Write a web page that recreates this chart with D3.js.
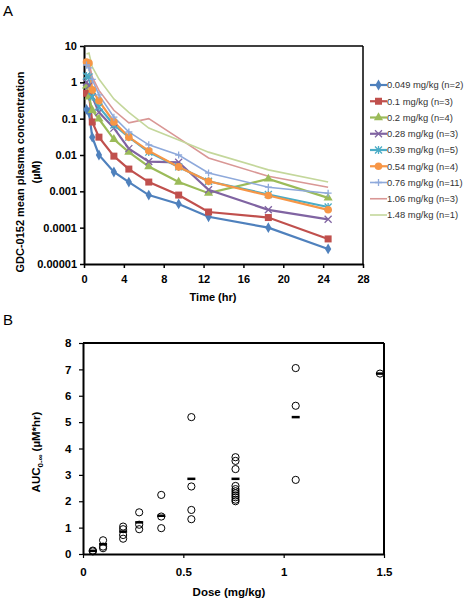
<!DOCTYPE html>
<html><head><meta charset="utf-8">
<script src="https://cdn.jsdelivr.net/npm/d3@7"></script>
<style>body{margin:0;background:#fff}svg{display:block;font-family:Arial,"Liberation Sans",sans-serif}</style>
</head><body><svg id="c" width="464" height="600"></svg>
<script>
// ---- Panel A data ----
const times = [0.25, 0.5, 0.83, 1.5, 3, 4.5, 6.5, 9.5, 12.5, 18.5, 24.5];
const seriesNames = ["0.049 mg/kg (n=2)","0.1 mg/kg (n=3)","0.2 mg/kg (n=4)","0.28 mg/kg (n=3)","0.39 mg/kg (n=5)","0.54 mg/kg (n=4)","0.76 mg/kg (n=11)","1.06 mg/kg (n=3)","1.48 mg/kg (n=1)"];
const conc049 = [0.18, 0.15, 0.031, 0.01, 0.0034, 0.0018, 0.00079, 0.00045, 0.0002, 0.0001, 0.000026];
const conc010 = [0.5, 0.45, 0.081, 0.031, 0.0093, 0.0041, 0.0018, 0.00079, 0.00027, 0.00019, 0.000049];
const conc020 = [0.8, 0.4, 0.17, 0.098, 0.027, 0.012, 0.0048, 0.0018, 0.00089, 0.0022, 0.00066];
const conc028 = [1.0, 0.8, 0.4, 0.15, 0.055, 0.015, 0.0066, 0.0063, 0.0011, 0.00031, 0.00017];
const conc039 = [1.5, 1.4, 0.4, 0.21, 0.067, 0.031, 0.012, 0.0047, 0.0019, 0.00082, 0.00037];
const conc054 = [3.6, 3.4, 0.62, 0.31, 0.081, 0.031, 0.013, 0.0047, 0.0019, 0.00077, 0.00031];
const conc076 = [3.0, 2.5, 1.2, 0.45, 0.11, 0.043, 0.019, 0.01, 0.0032, 0.0013, 0.00089];
const conc106 = [4.0, 3.5, 1.4, 0.6, 0.17, 0.077, 0.1, 0.029, 0.0083, 0.0026, 0.0013];
const conc148 = [6.0, 6.4, 2.65, 1.23, 0.35, 0.15, 0.055, 0.026, 0.012, 0.0039, 0.0018];
const concAll = [conc049, conc010, conc020, conc028, conc039, conc054, conc076, conc106, conc148];
const colors = ["#4F81BD","#C0504D","#9BBB59","#8064A2","#4BACC6","#F79646","#8EA9DB","#D99795","#C4D79B"];
const markers = ["diamond","square","triangle","x","star","circle","plus","none","none"];
const yTicksA = [10, 1, 0.1, 0.01, 0.001, 0.0001, 0.00001];
const yTickLabelsA = ["10","1","0.1","0.01","0.001","0.0001","0.00001"];
const xTicksA = [0, 4, 8, 12, 16, 20, 24, 28];

// ---- Panel B data ----
const doses = [0.049, 0.1, 0.2, 0.28, 0.39, 0.54, 0.76, 1.06, 1.48];
const aucIndiv = [
  [0.13, 0.1],
  [0.52, 0.28, 0.22],
  [1.04, 0.94, 0.72, 0.58],
  [1.58, 1.11, 0.94],
  [2.24, 1.42, 0.98],
  [5.19, 2.56, 1.67, 1.32],
  [3.67, 3.53, 3.22, 2.58, 2.46, 2.38, 2.3, 2.22, 2.15, 2.06, 2.0],
  [7.05, 5.62, 2.81],
  [6.84]
];
const aucMean = [0.12, 0.37, 0.85, 1.2, 1.45, 2.85, 2.85, 5.19, 6.84];
const xTicksB = [0, 0.5, 1, 1.5];
const yTicksB = [0, 1, 2, 3, 4, 5, 6, 7, 8];

const svg = d3.select("#c");

// ===== Panel A =====
const xA = d3.scaleLinear().domain([0, 28]).range([84, 363]);
const yA = d3.scaleLog().domain([0.00001, 10]).range([264, 46]);

svg.append("text").attr("x", 3).attr("y", 16).attr("font-size", 15).text("A");

const gA = svg.append("g");
gA.append("line").attr("x1", 84).attr("x2", 363).attr("y1", 46).attr("y2", 46).attr("stroke", "#000").attr("stroke-width", 1.5);
gA.append("line").attr("x1", 363).attr("x2", 363).attr("y1", 46).attr("y2", 264).attr("stroke", "#000").attr("stroke-width", 1.5);

const axA_x = gA.append("g").attr("transform", "translate(0,264)")
  .call(d3.axisBottom(xA).tickValues(xTicksA).tickSize(4).tickSizeOuter(0).tickFormat(d3.format("d")));
const axA_y = gA.append("g").attr("transform", "translate(84,0)")
  .call(d3.axisLeft(yA).tickValues(yTicksA).tickSize(4).tickSizeOuter(0).tickFormat((d, i) => yTickLabelsA[i]));
[axA_x, axA_y].forEach(a => {
  a.select(".domain").attr("stroke-width", 2);
  a.selectAll(".tick line").attr("stroke-width", 1.5);
  a.selectAll("text").attr("font-size", 11).attr("font-weight", "bold").attr("font-family", "Arial, Liberation Sans, sans-serif").attr("fill", "#000");
});
axA_x.selectAll("text").attr("dy", "1.1em");

gA.append("text").attr("x", 213).attr("y", 301).attr("text-anchor", "middle").attr("font-size", 11).attr("font-weight", "bold").text("Time (hr)");
gA.append("text").attr("transform", "translate(24,172) rotate(-90)").attr("text-anchor", "middle").attr("font-size", 11).attr("font-weight", "bold").text("GDC-0152 mean plasma concentration");
gA.append("text").attr("transform", "translate(40,172) rotate(-90)").attr("text-anchor", "middle").attr("font-size", 11).attr("font-weight", "bold").text("(µM)");

function drawMarker(g, type, x, y, col) {
  const s = g.append("g").attr("transform", `translate(${x},${y})`);
  if (type === "diamond") s.append("path").attr("d", d3.symbol(d3.symbolDiamond, 34)()).attr("fill", col);
  else if (type === "square") s.append("rect").attr("x", -3.5).attr("y", -3.5).attr("width", 7).attr("height", 7).attr("fill", col);
  else if (type === "triangle") s.append("path").attr("d", d3.symbol(d3.symbolTriangle, 36)()).attr("fill", col);
  else if (type === "circle") s.append("circle").attr("r", 3.8).attr("fill", col);
  else if (type === "x") s.append("path").attr("d", "M-3.5,-3.5L3.5,3.5M-3.5,3.5L3.5,-3.5").attr("stroke", col).attr("stroke-width", 1.3);
  else if (type === "plus") s.append("path").attr("d", "M-3.5,0L3.5,0M0,-3.5L0,3.5").attr("stroke", col).attr("stroke-width", 1.3);
  else if (type === "star") s.append("path").attr("d", "M-3.5,-3.5L3.5,3.5M-3.5,3.5L3.5,-3.5M0,-4L0,4").attr("stroke", col).attr("stroke-width", 1.3);
}

const line = d3.line().x((d, i) => xA(times[i])).y(d => yA(d));
const plotA = gA.append("g");
concAll.forEach((vals, si) => {
  plotA.append("path").datum(vals).attr("d", line).attr("fill", "none")
    .attr("stroke", colors[si]).attr("stroke-width", si < 6 ? 2.2 : 1.6);
});
concAll.forEach((vals, si) => {
  vals.forEach((v, i) => drawMarker(plotA, markers[si], xA(times[i]), yA(v), colors[si]));
});

// legend
const lg = svg.append("g");
seriesNames.forEach((n, i) => {
  const y = 85 + i * 16.25;
  lg.append("line").attr("x1", 370).attr("x2", 387).attr("y1", y).attr("y2", y).attr("stroke", colors[i]).attr("stroke-width", i < 6 ? 2.2 : 1.6);
  drawMarker(lg, markers[i], 378.5, y, colors[i]);
  lg.append("text").attr("x", 387).attr("y", y + 3.4).attr("font-size", 9.4).attr("fill", "#333").text(n);
});

// ===== Panel B =====
const xB = d3.scaleLinear().domain([0, 1.5]).range([83, 384]);
const yB = d3.scaleLinear().domain([0, 8]).range([554, 343]);

svg.append("text").attr("x", 3).attr("y", 325).attr("font-size", 15).text("B");
const gB = svg.append("g");
gB.append("line").attr("x1", 83).attr("x2", 384).attr("y1", 343).attr("y2", 343).attr("stroke", "#000").attr("stroke-width", 2);
gB.append("line").attr("x1", 384).attr("x2", 384).attr("y1", 343).attr("y2", 554).attr("stroke", "#000").attr("stroke-width", 2);
const axB_x = gB.append("g").attr("transform", "translate(0,554)")
  .call(d3.axisBottom(xB).tickValues(xTicksB).tickSize(4).tickSizeOuter(0).tickFormat(d => d3.format("")(d)));
const axB_y = gB.append("g").attr("transform", "translate(83,0)")
  .call(d3.axisLeft(yB).tickValues(yTicksB).tickSize(4).tickSizeOuter(0).tickFormat(d3.format("d")));
[axB_x, axB_y].forEach(a => {
  a.select(".domain").attr("stroke-width", 2);
  a.selectAll(".tick line").attr("stroke-width", 1.2);
  a.selectAll("text").attr("font-size", 11.5).attr("font-weight", "bold").attr("font-family", "Arial, Liberation Sans, sans-serif").attr("fill", "#000");
});
axB_x.selectAll("text").attr("dy", "1.3em");
axB_y.selectAll("text").attr("dx", "-0.4em");

gB.append("text").attr("x", 229).attr("y", 596).attr("text-anchor", "middle").attr("font-size", 11.5).attr("font-weight", "bold").text("Dose (mg/kg)");
const yt = gB.append("text").attr("transform", "translate(40,452) rotate(-90)").attr("text-anchor", "middle").attr("font-size", 11.5).attr("font-weight", "bold");
yt.append("tspan").text("AUC");
yt.append("tspan").attr("font-size", 8).attr("dy", 3).text("0-∞");
yt.append("tspan").attr("dy", -3).text(" (µM*hr)");

doses.forEach((d, i) => {
  aucIndiv[i].forEach(v => {
    gB.append("circle").attr("cx", xB(d)).attr("cy", yB(v)).attr("r", 3.6).attr("fill", "none").attr("stroke", "#000").attr("stroke-width", 1);
  });
  gB.append("line").attr("x1", xB(d) - 4).attr("x2", xB(d) + 4).attr("y1", yB(aucMean[i])).attr("y2", yB(aucMean[i])).attr("stroke", "#000").attr("stroke-width", 2.5);
});
</script></body></html>
